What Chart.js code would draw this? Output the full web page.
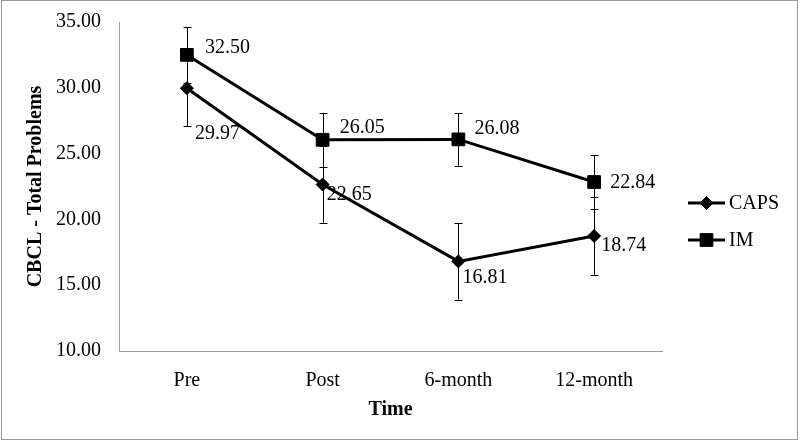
<!DOCTYPE html>
<html>
<head>
<meta charset="utf-8">
<script src="https://cdn.jsdelivr.net/npm/chart.js@4/dist/chart.umd.min.js"></script>
<style>
  html, body { margin: 0; padding: 0; background: #fff; }
  #wrap { width: 800px; height: 442px; position: relative; }
</style>
</head>
<body>
<div id="wrap"><canvas id="c" width="800" height="442"></canvas></div>
<script>
const categories = ['Pre', 'Post', '6-month', '12-month'];
const capsValues = [29.97, 22.65, 16.81, 18.74];
const imValues = [32.50, 26.05, 26.08, 22.84];
const capsErrors = [2.87, 2.9, 2.9, 2.95];
const imErrors = [2.1, 2.05, 2.0, 2.05];
const yTicks = [10, 15, 20, 25, 30, 35];

const FONT = '"Liberation Serif", "Times New Roman", serif';

// label placement (pixel offsets from point), style only
const labelOffsets = {
  CAPS: [[8, 46], [4, 10], [4, 16], [7, 10]],
  IM: [[18, -7], [17, -12], [16, -11], [16, 1]]
};
const errorMap = { CAPS: capsErrors, IM: imErrors };

const bgPlugin = {
  id: 'bg',
  beforeDraw(chart) {
    const ctx = chart.ctx;
    ctx.save();
    ctx.fillStyle = '#fff';
    ctx.fillRect(0, 0, chart.width, chart.height);
    ctx.strokeStyle = '#9a9a9a';
    ctx.lineWidth = 1;
    ctx.strokeRect(1.5, 0.5, 796, 439);
    ctx.restore();
  }
};

const errPlugin = {
  id: 'errbars',
  beforeDatasetsDraw(chart) {
    const ctx = chart.ctx;
    const y = chart.scales.y;
    ctx.save();
    ctx.strokeStyle = '#000';
    ctx.lineWidth = 1;
    chart.data.datasets.forEach((ds, di) => {
      const meta = chart.getDatasetMeta(di);
      const errs = errorMap[ds.label];
      meta.data.forEach((pt, i) => {
        const v = ds.data[i];
        const x = Math.round(pt.x) + 0.5;
        const yt = y.getPixelForValue(v + errs[i]);
        const yb = y.getPixelForValue(v - errs[i]);
        ctx.beginPath();
        ctx.moveTo(x, yt); ctx.lineTo(x, yb);
        ctx.moveTo(x - 4, Math.round(yt) + 0.5); ctx.lineTo(x + 4, Math.round(yt) + 0.5);
        ctx.moveTo(x - 4, Math.round(yb) + 0.5); ctx.lineTo(x + 4, Math.round(yb) + 0.5);
        ctx.stroke();
      });
    });
    ctx.restore();
  },
  afterDatasetsDraw(chart) {
    const ctx = chart.ctx;
    ctx.save();
    ctx.fillStyle = '#000';
    ctx.font = '20px ' + FONT;
    ctx.textAlign = 'left';
    ctx.textBaseline = 'middle';
    chart.data.datasets.forEach((ds, di) => {
      const meta = chart.getDatasetMeta(di);
      const offs = labelOffsets[ds.label];
      meta.data.forEach((pt, i) => {
        ctx.fillText(ds.data[i].toFixed(2), pt.x + offs[i][0], pt.y + offs[i][1]);
      });
    });
    ctx.restore();
  }
};

const legendPlugin = {
  id: 'customLegend',
  afterDraw(chart) {
    const ctx = chart.ctx;
    ctx.save();
    const rows = [203, 240];
    chart.data.datasets.forEach((ds, di) => {
      const yy = rows[di];
      ctx.strokeStyle = '#000';
      ctx.fillStyle = '#000';
      ctx.lineWidth = 3;
      ctx.beginPath();
      ctx.moveTo(688, yy); ctx.lineTo(725, yy);
      ctx.stroke();
      ctx.lineWidth = 1;
      Chart.helpers.drawPoint(ctx, { pointStyle: ds.pointStyle, radius: ds.pointRadius, borderWidth: 1 }, 706.5, yy);
      ctx.font = '20px ' + FONT;
      ctx.textAlign = 'left';
      ctx.textBaseline = 'middle';
      ctx.fillText(ds.label, 729, yy + 1);
    });
    ctx.restore();
  }
};

new Chart(document.getElementById('c'), {
  type: 'line',
  data: {
    labels: categories,
    datasets: [
      {
        label: 'CAPS', data: capsValues,
        borderColor: '#000', backgroundColor: '#000', borderWidth: 3,
        pointStyle: 'rectRot', pointRadius: 6.5, pointBackgroundColor: '#000',
        pointBorderColor: '#000', pointBorderWidth: 1, tension: 0
      },
      {
        label: 'IM', data: imValues,
        borderColor: '#000', backgroundColor: '#000', borderWidth: 3,
        pointStyle: 'rect', pointRadius: 9, pointBackgroundColor: '#000',
        pointBorderColor: '#000', pointBorderWidth: 1, tension: 0
      }
    ]
  },
  options: {
    responsive: false,
    animation: false,
    devicePixelRatio: 1,
    layout: { padding: { top: 22, right: 138, bottom: 0, left: 0 } },
    plugins: { legend: { display: false }, tooltip: { enabled: false } },
    scales: {
      x: {
        type: 'category',
        offset: true,
        grid: { display: false, drawTicks: false },
        border: { display: true, color: '#9a9a9a', width: 1 },
        ticks: { color: '#000', font: { family: FONT, size: 20 }, padding: 18, maxRotation: 0 },
        title: { display: true, text: 'Time', color: '#000', font: { family: FONT, size: 20, weight: 'bold' }, padding: { top: 0, bottom: 20 } },
        afterFit(scale) { scale.height = 91; scale.paddingLeft = 0; scale.paddingRight = 0; }
      },
      y: {
        min: 10, max: 35,
        afterBuildTicks(scale) { scale.ticks = yTicks.map(v => ({ value: v })); },
        grid: { display: false, drawTicks: false },
        border: { display: true, color: '#9a9a9a', width: 1 },
        ticks: { color: '#000', font: { family: FONT, size: 20 }, padding: 18, callback: v => Number(v).toFixed(2) },
        title: { display: true, text: 'CBCL - Total Problems', color: '#000', font: { family: FONT, size: 20, weight: 'bold' }, padding: { top: 24, bottom: 0 } },
        afterFit(scale) { scale.width = 119; scale.paddingTop = 0; scale.paddingBottom = 0; }
      }
    }
  },
  plugins: [bgPlugin, errPlugin, legendPlugin]
});
</script>
</body>
</html>
